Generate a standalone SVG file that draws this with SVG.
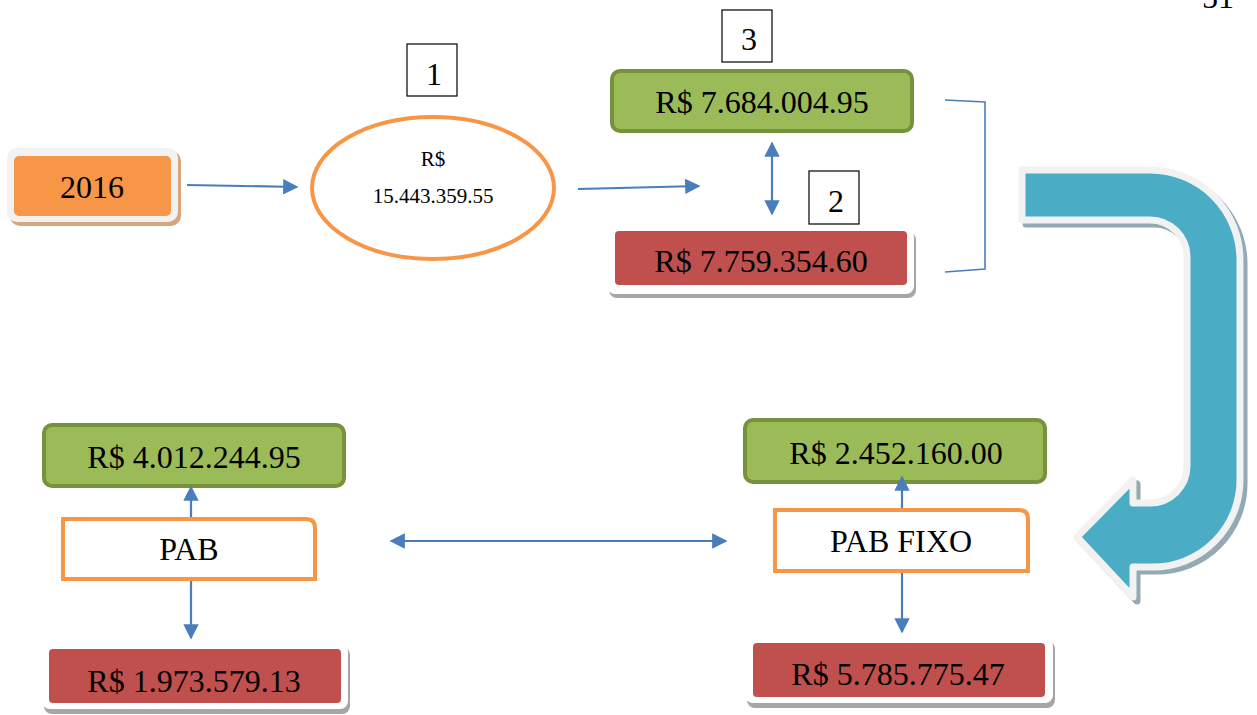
<svg xmlns="http://www.w3.org/2000/svg" width="1257" height="715" viewBox="0 0 1257 715">
  <style>
    text { font-family: "Liberation Serif", "Times New Roman", serif; fill: #000; text-anchor: middle; }
    .big { font-size: 32px; }
    .small { font-size: 21px; }
    .tag { fill: #fff; stroke: #000; stroke-width: 1.2; }
    .green { fill: #9bbb59; stroke: #76923c; stroke-width: 4; }
    .red { fill: #c0504d; }
    .frame { fill: #fff; }
    .pab { fill: #fff; stroke: #f79646; stroke-width: 4; }
    .link { fill: none; stroke: #4a7ebb; stroke-width: 2.2; }
    .bracket { fill: none; stroke: #4a7ebb; stroke-width: 1.6; }
  </style>
  <defs>
    <marker id="head" viewBox="0 0 10 10" refX="9" refY="5" markerWidth="7" markerHeight="7" orient="auto-start-reverse" markerUnits="strokeWidth">
      <path d="M0,0 L10,5 L0,10 Z" fill="#4a7ebb"/>
    </marker>
    <filter id="soft" x="-5%" y="-5%" width="110%" height="120%">
      <feGaussianBlur stdDeviation="0.6"/>
    </filter>
  </defs>

  <rect width="1257" height="715" fill="#fff"/>

  <!-- page number -->
  <text x="1218" y="8" class="big">51</text>

  <!-- start year -->
  <g id="node-2016">
    <rect x="10" y="151" width="171" height="75" rx="10" fill="#d9a57a" filter="url(#soft)"/>
    <rect x="7" y="148" width="171" height="74" rx="10" fill="#f2f2f2"/>
    <rect x="14" y="156" width="157" height="60" rx="5" fill="#f79646"/>
    <text x="92" y="198" class="big">2016</text>
  </g>

  <!-- total amount -->
  <g id="node-total">
    <ellipse cx="433" cy="188" rx="121" ry="71" fill="#fff" stroke="#f79646" stroke-width="4"/>
    <text x="433" y="166" class="small">R$</text>
    <text x="433" y="203" class="small">15.443.359.55</text>
  </g>

  <g id="tag-1">
    <rect x="407" y="44" width="50" height="52" class="tag"/>
    <text x="434" y="85" class="big">1</text>
  </g>

  <g id="tag-3">
    <rect x="722" y="10" width="50" height="52" class="tag"/>
    <text x="749" y="50" class="big">3</text>
  </g>

  <g id="tag-2">
    <rect x="809" y="171" width="50" height="53" class="tag"/>
    <text x="836" y="212" class="big">2</text>
  </g>

  <!-- top split -->
  <g id="node-top-green">
    <rect x="612" y="71" width="300" height="60" rx="8" class="green"/>
    <text x="762" y="113" class="big">R$ 7.684.004.95</text>
  </g>

  <g id="node-top-red">
    <rect x="609" y="232" width="307" height="66" rx="8" fill="#a6a6a6" filter="url(#soft)"/>
    <rect x="607" y="229" width="307" height="65" rx="8" class="frame"/>
    <rect x="615" y="231" width="292" height="54" rx="4" class="red"/>
    <text x="761" y="272" class="big">R$ 7.759.354.60</text>
  </g>

  <!-- big turning arrow -->
  <g id="node-turn">
    <path transform="translate(4,4)" d="M1022,170 L1150,170 A90,90 0 0 1 1240,260 L1240,480 A87,87 0 0 1 1153,567 L1133,567 L1133,597 L1077,537 L1133,480 L1133,503 L1150,503 A37,37 0 0 0 1187,466 L1187,257 A37,37 0 0 0 1150,220 L1022,220 Z" fill="#93a9b3" stroke="#93a9b3" stroke-width="7" stroke-linejoin="round" filter="url(#soft)"/>
    <path d="M1022,170 L1150,170 A90,90 0 0 1 1240,260 L1240,480 A87,87 0 0 1 1153,567 L1133,567 L1133,597 L1077,537 L1133,480 L1133,503 L1150,503 A37,37 0 0 0 1187,466 L1187,257 A37,37 0 0 0 1150,220 L1022,220 Z" fill="#4bacc6" stroke="#f2f2f2" stroke-width="7" stroke-linejoin="round"/>
  </g>

  <!-- PAB branch -->
  <g id="node-pab-green">
    <rect x="44" y="425" width="300" height="61" rx="8" class="green"/>
    <text x="194" y="468" class="big">R$ 4.012.244.95</text>
  </g>

  <g id="node-pab">
    <path d="M63,519 L306,519 Q315,519 315,528 L315,579 L63,579 Z" class="pab"/>
    <text x="189" y="560" class="big">PAB</text>
  </g>

  <g id="node-pab-red">
    <rect x="44" y="647" width="306" height="67" rx="8" fill="#a6a6a6" filter="url(#soft)"/>
    <rect x="42" y="644" width="306" height="65" rx="8" class="frame"/>
    <rect x="49" y="649" width="292" height="54" rx="4" class="red"/>
    <text x="194" y="692" class="big">R$ 1.973.579.13</text>
  </g>

  <!-- PAB FIXO branch -->
  <g id="node-fixo-green">
    <rect x="745" y="420" width="300" height="62" rx="8" class="green"/>
    <text x="896" y="464" class="big">R$ 2.452.160.00</text>
  </g>

  <g id="node-fixo">
    <path d="M775,510 L1019,510 Q1028,510 1028,519 L1028,571 L775,571 Z" class="pab"/>
    <text x="901" y="552" class="big">PAB FIXO</text>
  </g>

  <g id="node-fixo-red">
    <rect x="747" y="641" width="308" height="67" rx="8" fill="#a6a6a6" filter="url(#soft)"/>
    <rect x="745" y="638" width="308" height="65" rx="8" class="frame"/>
    <rect x="753" y="643" width="292" height="54" rx="4" class="red"/>
    <text x="898" y="685" class="big">R$ 5.785.775.47</text>
  </g>

  <!-- connectors -->
  <g id="connectors">
    <line x1="187" y1="185" x2="297" y2="187" class="link" marker-end="url(#head)"/>
    <line x1="578" y1="189" x2="699" y2="186" class="link" marker-end="url(#head)"/>
    <line x1="772" y1="143" x2="772" y2="214" class="link" marker-start="url(#head)" marker-end="url(#head)"/>
    <path d="M945,100 L985,102 L985,269 L945,272" class="bracket"/>
    <line x1="191" y1="517" x2="191" y2="487" class="link" marker-end="url(#head)"/>
    <line x1="191" y1="581" x2="191" y2="638" class="link" marker-end="url(#head)"/>
    <line x1="391" y1="541" x2="726" y2="541" class="link" marker-start="url(#head)" marker-end="url(#head)"/>
    <line x1="902" y1="508" x2="902" y2="477" class="link" marker-end="url(#head)"/>
    <line x1="902" y1="573" x2="902" y2="632" class="link" marker-end="url(#head)"/>
  </g>
</svg>
